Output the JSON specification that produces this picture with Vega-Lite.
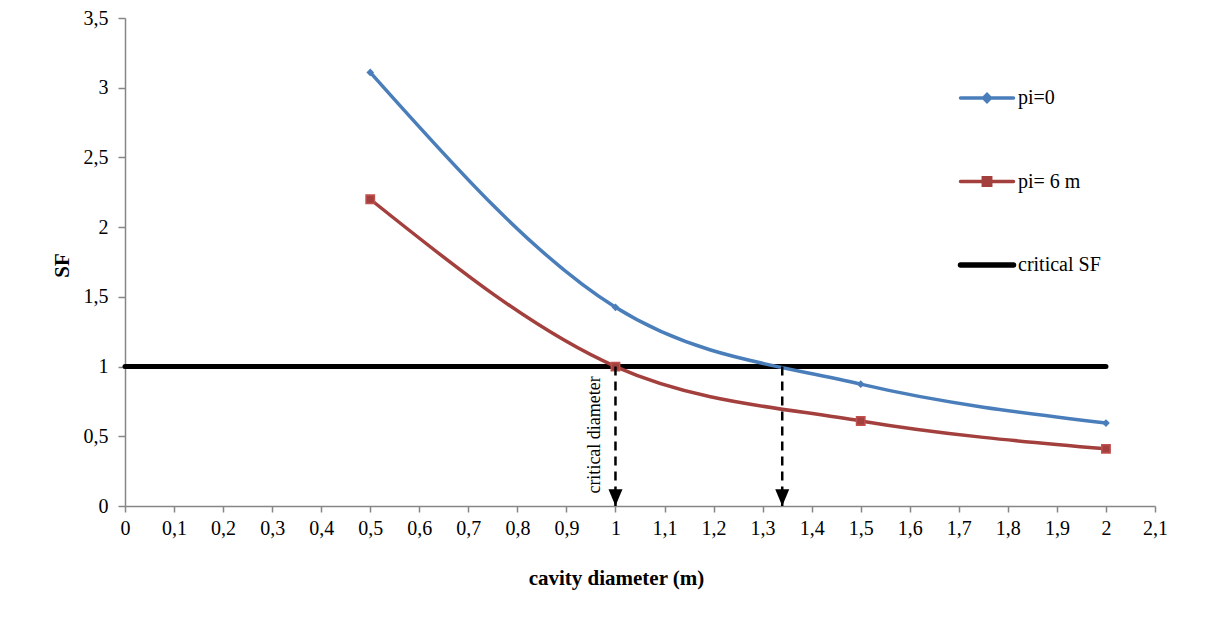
{
  "$schema": "https://vega.github.io/schema/vega-lite/v6.json",
  "width": 1030,
  "height": 488,
  "autosize": "none",
  "padding": {"left": 125, "top": 18, "right": 59, "bottom": 131},
  "background": "white",
  "config": {
    "view": {"stroke": null},
    "font": "Liberation Serif, serif",
    "axis": {
      "labelFont": "Liberation Serif, serif",
      "labelFontSize": 20,
      "labelColor": "black",
      "titleFont": "Liberation Serif, serif",
      "titleFontSize": 21,
      "titleFontWeight": "bold",
      "titleColor": "black",
      "domainColor": "#868686",
      "tickColor": "#868686",
      "domainWidth": 1.5,
      "tickWidth": 1.5,
      "grid": false
    }
  },
  "datasets": {
    "series": [
      {"d": 0.5, "sf": 3.11, "s": "pi=0"},
      {"d": 1, "sf": 1.425, "s": "pi=0"},
      {"d": 1.5, "sf": 0.874, "s": "pi=0"},
      {"d": 2, "sf": 0.595, "s": "pi=0"},
      {"d": 0.5, "sf": 2.2, "s": "pi= 6 m"},
      {"d": 1, "sf": 1.0, "s": "pi= 6 m"},
      {"d": 1.5, "sf": 0.61, "s": "pi= 6 m"},
      {"d": 2, "sf": 0.41, "s": "pi= 6 m"},
      {"d": 0, "sf": 1, "s": "critical SF"},
      {"d": 2, "sf": 1, "s": "critical SF"}
    ],
    "arrows": [
      {"d": 1, "top": 1, "bottom": 0},
      {"d": 1.34, "top": 1, "bottom": 0}
    ],
    "notes": [
      {"d": 0.958, "sf": 0.51, "label": "critical diameter"}
    ]
  },
  "layer": [
    {
      "data": {"name": "series"},
      "transform": [{"filter": "datum.s === 'critical SF'"}],
      "mark": {"type": "line", "strokeWidth": 5, "strokeCap": "round"},
      "encoding": {
        "x": {
          "field": "d", "type": "quantitative",
          "scale": {"domain": [0, 2.1], "nice": false, "zero": false},
          "axis": {
            "title": "cavity diameter (m)",
            "values": [0, 0.1, 0.2, 0.3, 0.4, 0.5, 0.6, 0.7, 0.8, 0.9, 1, 1.1, 1.2, 1.3, 1.4, 1.5, 1.6, 1.7, 1.8, 1.9, 2, 2.1],
            "labelExpr": "replace(format(datum.value, '.2~f'), '.', ',')",
            "tickSize": 6,
            "labelPadding": 6,
            "labelFlush": false,
            "labelOverlap": false,
            "titleX": 491,
            "titleY": 72,
            "titleBaseline": "middle",
            "titleAnchor": null
          }
        },
        "y": {
          "field": "sf", "type": "quantitative",
          "scale": {"domain": [0, 3.5], "nice": false},
          "axis": {
            "title": "SF",
            "values": [0, 0.5, 1, 1.5, 2, 2.5, 3, 3.5],
            "labelExpr": "replace(format(datum.value, '.2~f'), '.', ',')",
            "tickSize": 7,
            "labelPadding": 10,
            "labelFlush": false,
            "titleX": -63,
            "titleY": 247,
            "titleAngle": 270,
            "titleBaseline": "middle",
            "titleAnchor": null
          }
        },
        "color": {
          "field": "s", "type": "nominal",
          "scale": {"domain": ["pi=0", "pi= 6 m", "critical SF"], "range": ["#4A7EBB", "#A3403D", "#000000"]},
          "legend": {
            "title": null,
            "orient": "none",
            "legendX": 852,
            "legendY": 70,
            "direction": "vertical",
            "symbolSize": 2809,
            "symbolStrokeWidth": 3.5,
            "rowPadding": 61.5,
            "labelFont": "Liberation Serif, serif",
            "labelFontSize": 20,
            "labelColor": "black",
            "labelOffset": 21,
            "encode": {
              "symbols": {
                "update": {
                  "shape": {"signal": "datum.value === 'pi=0' ? 'M-1,0H1M0,-0.13L0.13,0L0,0.13L-0.13,0Z' : (datum.value === 'pi= 6 m' ? 'M-1,0H1M-0.14,-0.14H0.14V0.14H-0.14Z' : 'M-1,0H1')"},
                  "fill": {"scale": "color", "field": "value"},
                  "stroke": {"scale": "color", "field": "value"},
                  "strokeWidth": {"signal": "datum.value === 'critical SF' ? 5.5 : 3.5"},
                  "strokeCap": {"value": "round"},
                  "opacity": {"value": 1}
                }
              }
            }
          }
        }
      }
    },
    {
      "data": {"name": "series"},
      "transform": [{"filter": "datum.s !== 'critical SF'"}],
      "mark": {"type": "line", "strokeWidth": 3.5, "interpolate": "monotone"},
      "encoding": {
        "x": {"field": "d", "type": "quantitative"},
        "y": {"field": "sf", "type": "quantitative"},
        "color": {"field": "s", "type": "nominal"}
      }
    },
    {
      "data": {"name": "series"},
      "transform": [{"filter": "datum.s === 'pi=0'"}],
      "mark": {"type": "point", "shape": "diamond", "filled": true, "size": 60, "color": "#4A7EBB", "opacity": 1},
      "encoding": {
        "x": {"field": "d", "type": "quantitative"},
        "y": {"field": "sf", "type": "quantitative"}
      }
    },
    {
      "data": {"name": "series"},
      "transform": [{"filter": "datum.s === 'pi= 6 m'"}],
      "mark": {"type": "square", "size": 70, "color": "#A3403D", "stroke": "#C0504D", "strokeWidth": 1.5, "opacity": 1},
      "encoding": {
        "x": {"field": "d", "type": "quantitative"},
        "y": {"field": "sf", "type": "quantitative"}
      }
    },
    {
      "data": {"name": "arrows"},
      "mark": {"type": "rule", "color": "black", "strokeWidth": 2.5, "strokeDash": [9, 6]},
      "encoding": {
        "x": {"field": "d", "type": "quantitative"},
        "y": {"field": "top", "type": "quantitative"},
        "y2": {"field": "bottom"}
      }
    },
    {
      "data": {"name": "arrows"},
      "mark": {"type": "point", "shape": "M-1,-2.4L1,-2.4L0,0Z", "filled": true, "size": 196, "color": "black", "opacity": 1},
      "encoding": {
        "x": {"field": "d", "type": "quantitative"},
        "y": {"field": "bottom", "type": "quantitative"}
      }
    },
    {
      "data": {"name": "notes"},
      "mark": {"type": "text", "angle": 270, "align": "center", "baseline": "middle", "font": "Liberation Serif, serif", "fontSize": 18, "color": "black"},
      "encoding": {
        "x": {"field": "d", "type": "quantitative"},
        "y": {"field": "sf", "type": "quantitative"},
        "text": {"field": "label"}
      }
    }
  ]
}
